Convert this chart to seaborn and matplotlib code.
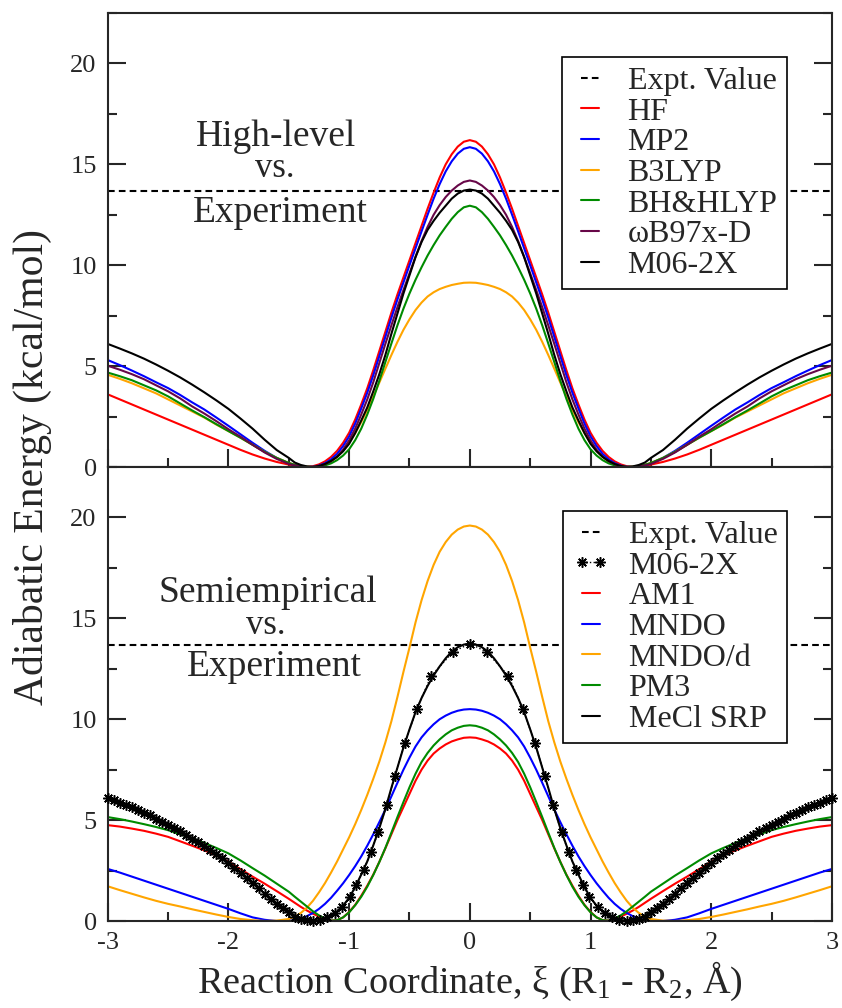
import numpy as np
import matplotlib
matplotlib.use("Agg")
import matplotlib.pyplot as plt
import seaborn as sns
from matplotlib.ticker import MultipleLocator

# ---------------------------------------------------------------
# DATA  (half curves for xi >= 0, mirrored to xi < 0)
# grid: 0 ... 1.5 step 0.05, then 1.6 ... 3.0 step 0.1
# ---------------------------------------------------------------
XI_HALF = np.round(np.concatenate([np.arange(0, 31) * 0.05, 1.5 + np.arange(1, 16) * 0.1]), 2)
EXPT = 13.7

# high-level methods
HF = [16.2, 16.12, 15.88, 15.5, 15.0, 14.35, 13.6, 12.8, 11.95, 11.1, 10.25, 9.4, 8.55, 7.65, 6.7, 5.75,
      4.8, 3.9, 3.1, 2.35, 1.7, 1.2, 0.8, 0.5, 0.28, 0.13, 0.04, 0.0, 0.02, 0.06, 0.12,
      0.25, 0.42, 0.62, 0.85, 1.1, 1.35, 1.6, 1.85, 2.1, 2.35, 2.6, 2.85, 3.1, 3.35, 3.6]
MP2 = [15.85, 15.77, 15.53, 15.15, 14.65, 14.02, 13.3, 12.5, 11.68, 10.84, 10.0, 9.15, 8.3, 7.4, 6.45, 5.5,
       4.55, 3.68, 2.9, 2.15, 1.52, 1.04, 0.65, 0.38, 0.19, 0.07, 0.01, 0.0, 0.03, 0.09, 0.18,
       0.45, 0.8, 1.2, 1.62, 2.04, 2.45, 2.85, 3.2, 3.57, 3.91, 4.2, 4.5, 4.78, 5.05, 5.3]
B3LYP = [9.14, 9.13, 9.08, 9.02, 8.93, 8.82, 8.66, 8.45, 8.15, 7.78, 7.32, 6.8, 6.2, 5.55, 4.87, 4.18,
         3.5, 2.83, 2.22, 1.68, 1.2, 0.8, 0.5, 0.27, 0.12, 0.04, 0.0, 0.01, 0.05, 0.11, 0.2,
         0.45, 0.75, 1.1, 1.45, 1.78, 2.1, 2.45, 2.75, 3.05, 3.35, 3.65, 3.9, 4.15, 4.37, 4.57]
BHHLYP = [12.95, 12.87, 12.63, 12.3, 11.9, 11.48, 11.0, 10.48, 9.9, 9.28, 8.6, 7.85, 7.02, 6.12, 5.2, 4.27,
          3.38, 2.6, 1.9, 1.33, 0.88, 0.57, 0.34, 0.18, 0.08, 0.02, 0.0, 0.01, 0.05, 0.11, 0.2,
          0.45, 0.75, 1.1, 1.45, 1.78, 2.12, 2.47, 2.8, 3.15, 3.5, 3.8, 4.05, 4.3, 4.5, 4.68]
WB97XD = [14.2, 14.13, 13.95, 13.7, 13.38, 12.98, 12.5, 11.9, 11.2, 10.42, 9.6, 8.77, 7.92, 7.02, 6.1, 5.15,
          4.2, 3.35, 2.6, 1.9, 1.32, 0.86, 0.52, 0.29, 0.14, 0.05, 0.01, 0.0, 0.03, 0.08, 0.15,
          0.4, 0.72, 1.1, 1.5, 1.87, 2.27, 2.65, 3.0, 3.4, 3.75, 4.05, 4.35, 4.6, 4.82, 5.02]
M06_LINE = [13.75, 13.7, 13.55, 13.3, 12.95, 12.6, 12.2, 11.75, 11.15, 10.4, 9.5, 8.6, 7.6, 6.6, 5.55, 4.6,
            3.75, 2.95, 2.3, 1.68, 1.15, 0.78, 0.5, 0.3, 0.15, 0.05, 0.0, 0.03, 0.1, 0.22, 0.45,
            0.84, 1.35, 1.9, 2.4, 2.88, 3.3, 3.7, 4.08, 4.44, 4.77, 5.08, 5.37, 5.63, 5.87, 6.1]

# M06-2X reference points shown as stars (own, non-uniform grid)
XI_M06 = [0.0, 0.14, 0.32, 0.44, 0.54, 0.62, 0.69, 0.76, 0.82, 0.88, 0.94, 0.99, 1.06, 1.12,
          1.18, 1.24, 1.30, 1.35, 1.40, 1.45, 1.50, 1.55, 1.60, 1.65, 1.70, 1.75, 1.80, 1.85,
          1.90, 1.95, 2.00, 2.05, 2.10, 2.15, 2.20, 2.25, 2.30, 2.35, 2.40, 2.45, 2.50, 2.55,
          2.60, 2.65, 2.70, 2.75, 2.80, 2.85, 2.90, 2.95, 3.00]
M06 = [13.75, 13.33, 12.15, 10.5, 8.8, 7.2, 5.74, 4.4, 3.4, 2.52, 1.78, 1.2, 0.71, 0.42,
       0.2, 0.06, 0.0, 0.03, 0.1, 0.22, 0.45, 0.62, 0.84, 1.08, 1.35, 1.62, 1.9, 2.15,
       2.4, 2.65, 2.88, 3.1, 3.3, 3.5, 3.7, 3.9, 4.08, 4.26, 4.44, 4.6, 4.77, 4.93,
       5.08, 5.23, 5.37, 5.5, 5.63, 5.75, 5.87, 5.98, 6.1]

# semiempirical methods
AM1 = [9.1, 9.08, 9.0, 8.9, 8.75, 8.55, 8.3, 7.95, 7.5, 6.95, 6.3, 5.65, 5.0, 4.3, 3.6, 2.93,
       2.3, 1.75, 1.25, 0.8, 0.45, 0.18, 0.04, 0.02, 0.1, 0.22, 0.36, 0.52, 0.7, 0.9, 1.1,
       1.48, 1.85, 2.2, 2.57, 2.94, 3.25, 3.5, 3.73, 3.95, 4.17, 4.33, 4.47, 4.58, 4.68, 4.75]
MNDO = [10.5, 10.48, 10.42, 10.32, 10.18, 10.0, 9.75, 9.45, 9.1, 8.65, 8.1, 7.5, 6.85, 6.18, 5.52, 4.9,
        4.3, 3.73, 3.2, 2.72, 2.28, 1.87, 1.5, 1.15, 0.85, 0.6, 0.4, 0.24, 0.12, 0.05, 0.01,
        0.0, 0.06, 0.18, 0.38, 0.6, 0.8, 1.0, 1.2, 1.4, 1.6, 1.8, 2.0, 2.2, 2.4, 2.58]
MNDOD = [19.6, 19.55, 19.4, 19.15, 18.78, 18.3, 17.65, 16.85, 15.9, 14.8, 13.55, 12.35, 11.1, 9.9, 8.85, 7.9,
         7.05, 6.25, 5.5, 4.8, 4.15, 3.55, 2.95, 2.4, 1.88, 1.42, 1.0, 0.66, 0.4, 0.22, 0.1,
         0.02, 0.0, 0.04, 0.1, 0.2, 0.32, 0.45, 0.58, 0.72, 0.85, 1.0, 1.17, 1.35, 1.53, 1.72]
PM3 = [9.7, 9.67, 9.58, 9.45, 9.25, 9.0, 8.7, 8.33, 7.88, 7.3, 6.63, 5.9, 5.15, 4.38, 3.62, 2.92,
       2.28, 1.7, 1.2, 0.78, 0.43, 0.18, 0.04, 0.02, 0.12, 0.28, 0.48, 0.72, 0.96, 1.2, 1.45,
       1.85, 2.25, 2.62, 3.0, 3.35, 3.62, 3.87, 4.1, 4.3, 4.5, 4.66, 4.8, 4.93, 5.05, 5.15]
MECL_SRP = [13.75, 13.7, 13.57, 13.35, 13.02, 12.62, 12.17, 11.65, 11.05, 10.35, 9.5, 8.6, 7.6, 6.6, 5.55, 4.6,
            3.75, 2.95, 2.3, 1.68, 1.15, 0.76, 0.47, 0.26, 0.12, 0.04, 0.0, 0.04, 0.13, 0.27, 0.45,
            0.85, 1.35, 1.9, 2.4, 2.9, 3.3, 3.7, 4.1, 4.45, 4.78, 5.1, 5.38, 5.64, 5.88, 6.1]

TOP_SERIES = [("HF", HF, "#ff0000"), ("MP2", MP2, "#0000ff"), ("B3LYP", B3LYP, "#ffa500"),
              ("BH&HLYP", BHHLYP, "#008b00"), ("ωB97x-D", WB97XD, "#670748"),
              ("M06-2X", M06_LINE, "#000000")]
BOT_SERIES = [("AM1", AM1, "#ff0000"), ("MNDO", MNDO, "#0000ff"), ("MNDO/d", MNDOD, "#ffa500"),
              ("PM3", PM3, "#008b00"), ("MeCl SRP", MECL_SRP, "#000000")]


def mirror(xs, ys):
    """Both sides of the symmetric double well."""
    xs = np.asarray(xs, float)
    ys = np.asarray(ys, float)
    assert len(xs) == len(ys)
    return (np.concatenate([-xs[:0:-1], xs]), np.concatenate([ys[:0:-1], ys]))


# ---------------------------------------------------------------
# STYLE
# ---------------------------------------------------------------
sns.set_style("ticks")
plt.rcParams["font.family"] = ["Liberation Serif", "DejaVu Serif"]
plt.rcParams["mathtext.fontset"] = "custom"
plt.rcParams["mathtext.rm"] = "Liberation Serif"
plt.rcParams["mathtext.it"] = "Liberation Serif:italic"
plt.rcParams["axes.unicode_minus"] = False
plt.rcParams["axes.linewidth"] = 1.5

LW = 1.5
TXT = 27
LEG = dict(loc="upper right", bbox_to_anchor=(0.938, 0.903), borderaxespad=0,
           fontsize=23, frameon=True, fancybox=False, edgecolor="black",
           framealpha=1, handlelength=1.15, handletextpad=0.6,
           labelspacing=0.04, borderpad=0.3, numpoints=2)

fig = plt.figure(figsize=(8.42, 10.08), dpi=100)
ax1 = fig.add_axes([0.128, 0.5367, 0.86, 0.4504])
ax2 = fig.add_axes([0.128, 0.0863, 0.86, 0.4504])

for ax in (ax1, ax2):
    ax.set_xlim(-3, 3)
    ax.set_ylim(0, 22.5)
    ax.xaxis.set_major_locator(MultipleLocator(1))
    ax.xaxis.set_minor_locator(MultipleLocator(0.5))
    ax.yaxis.set_major_locator(MultipleLocator(5))
    ax.yaxis.set_minor_locator(MultipleLocator(2.5))
    ax.tick_params(which="both", direction="in", left=True, right=True,
                   bottom=True, top=False, width=1.5, labelsize=19, pad=8)
    ax.tick_params(which="major", length=13)
    ax.tick_params(which="minor", length=6.5)
    ax.axhline(EXPT, color="black", lw=LW, ls=(0, (3.2, 2)), label="Expt. Value")

ax1.tick_params(labelbottom=False)

# top panel: high-level methods
for name, vals, col in TOP_SERIES:
    x, y = mirror(XI_HALF, vals)
    sns.lineplot(x=x, y=y, ax=ax1, color=col, lw=LW, label=name, sort=False)

# bottom panel: M06-2X reference as stars, then semiempirical methods
x, y = mirror(XI_M06, M06)
sns.lineplot(x=x, y=y, ax=ax2, color="black", lw=1.0, ls=":", marker=(8, 2, 0),
             markersize=7.5, markeredgewidth=1.1, markeredgecolor="black",
             label="M06-2X", sort=False, clip_on=False, zorder=3)
for name, vals, col in BOT_SERIES:
    x, y = mirror(XI_HALF, vals)
    sns.lineplot(x=x, y=y, ax=ax2, color=col, lw=LW, label=name, sort=False)

ax1.set_ylabel("")
ax2.set_ylabel("")
ax1.set_xlabel("")
ax2.set_xlabel(r"Reaction Coordinate, ξ (R$_1$ - R$_2$, Å)", fontsize=27.5, labelpad=4)
fig.text(0.039, 0.537, "Adiabatic Energy (kcal/mol)", rotation=90, fontsize=30,
         ha="center", va="center")

# panel annotations
ax1.text(-1.61, 16.35, "High-level", fontsize=TXT, ha="center", va="center")
ax1.text(-1.62, 14.8, "vs.", fontsize=25, ha="center", va="center")
ax1.text(-1.57, 12.6, "Experiment", fontsize=TXT, ha="center", va="center")
ax2.text(-1.67, 16.25, "Semiempirical", fontsize=TXT, ha="center", va="center")
ax2.text(-1.69, 14.65, "vs.", fontsize=25, ha="center", va="center")
ax2.text(-1.62, 12.6, "Experiment", fontsize=TXT, ha="center", va="center")

for ax in (ax1, ax2):
    leg = ax.legend(**LEG)
    leg.get_frame().set_linewidth(1.2)
    leg.set_zorder(10)

fig.savefig("out.png", dpi=100)
